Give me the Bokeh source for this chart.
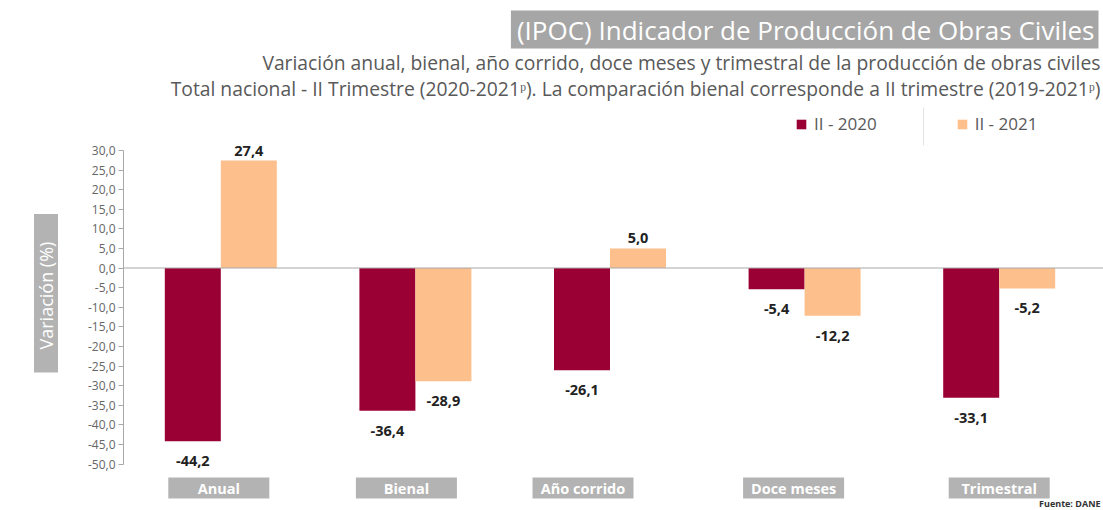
from bokeh.plotting import figure
from bokeh.models import Range1d, FixedTicker, Label, Span, Title
from bokeh.embed import file_html
from bokeh.resources import INLINE
from bokeh.core.properties import value

# ---------------- data ----------------
categories = ["Anual", "Bienal", "Año corrido", "Doce meses", "Trimestral"]
series_names = ["II - 2020", "II - 2021"]
ii_2020 = [-44.2, -36.4, -26.1, -5.4, -33.1]
ii_2021 = [27.4, -28.9, 5.0, -12.2, -5.2]
y_ticks = [30, 25, 20, 15, 10, 5, 0, -5, -10, -15, -20, -25, -30, -35, -40, -45, -50]
y_tick_labels = ["30,0", "25,0", "20,0", "15,0", "10,0", "5,0", "0,0", "-5,0", "-10,0",
                 "-15,0", "-20,0", "-25,0", "-30,0", "-35,0", "-40,0", "-45,0", "-50,0"]

title_text = "(IPOC) Indicador de Producción de Obras Civiles"
subtitle1 = "Variación anual, bienal, año corrido, doce meses y trimestral de la producción de obras civiles"
subtitle2 = "Total nacional - II Trimestre (2020-2021ᵖ). La comparación bienal corresponde a II trimestre (2019-2021ᵖ)"
y_label = "Variación  (%)"
source_note = "Fuente: DANE"

# ---------------- layout / style ----------------
W, H = 1103, 510
LEFT = 123
PX_PER_CAT = 194.6
PX_PER_UNIT = 3.92
ZERO_PX = 267.5
BAR_W_PX = 56
FONT = "Open Sans"
MAROON = "#9b0034"
PEACH = "#fdbf8b"
GREY_BOX = "#b3b3b3"
TEXT_GREY = "#595959"
label_box_shift_px = [-2, -9, -27, -11, 0]

x_end = (W - LEFT) / PX_PER_CAT
y_top = ZERO_PX / PX_PER_UNIT
y_bottom = -(H - ZERO_PX) / PX_PER_UNIT

def px_to_x(px):
    return (px - LEFT) / PX_PER_CAT

def px_to_y(py):
    return (ZERO_PX - py) / PX_PER_UNIT

def fmt(v):
    return f"{v:.1f}".replace(".", ",")

p = figure(width=W, height=H, x_range=Range1d(0, x_end), y_range=Range1d(y_bottom, y_top),
           output_backend="svg", toolbar_location=None, x_axis_location=None,
           min_border_left=LEFT, min_border_right=0, min_border_top=0, min_border_bottom=0)
p.grid.visible = False
p.outline_line_color = None
p.background_fill_color = "white"
p.border_fill_color = "white"

# y axis
ax = p.yaxis[0]
ax.ticker = FixedTicker(ticks=y_ticks)
ax.major_label_overrides = {t: l for t, l in zip(y_ticks, y_tick_labels)}
ax.bounds = (min(y_ticks), max(y_ticks))
ax.axis_line_color = "#a8a8a8"
ax.major_tick_line_color = "#a8a8a8"
ax.major_tick_out = 5
ax.major_tick_in = 0
ax.minor_tick_line_color = None
ax.major_label_text_font = FONT
ax.major_label_text_font_size = "12px"
ax.major_label_text_color = "#666666"
ax.major_label_standoff = 3

# vertical axis title box (left panel)
p.add_layout(Title(text=y_label, align="left", vertical_align="middle", offset=138, standoff=5,
                   text_font=FONT, text_font_size="18px", text_font_style="normal",
                   text_color="white", background_fill_color=GREY_BOX,
                   padding=dict(left=23, right=23, top=0, bottom=0)), "left")

# zero line
p.add_layout(Span(location=0, dimension="width", line_color="#a8a8a8", line_width=1))

# bars
centers = [i + 0.5 for i in range(len(categories))]
off = (BAR_W_PX / 2) / PX_PER_CAT
bw = BAR_W_PX / PX_PER_CAT
x20 = [c - off for c in centers]
x21 = [c + off for c in centers]
p.vbar(x=x20, top=ii_2020, bottom=0, width=bw, fill_color=MAROON, line_color=None,
       legend_label=series_names[0])
p.vbar(x=x21, top=ii_2021, bottom=0, width=bw, fill_color=PEACH, line_color=None,
       legend_label=series_names[1])

# value labels
for xs, vals in ((x20, ii_2020), (x21, ii_2021)):
    p.text(x=xs, y=vals, text=[fmt(v) for v in vals],
           y_offset=[-10 if v > 0 else 20 for v in vals],
           text_align="center", text_baseline="middle",
           text_font=value(FONT), text_font_style="bold", text_font_size="14.5px",
           text_color="#222222")

# category label boxes
box_y = px_to_y(487.5)
box_x = [c + s / PX_PER_CAT for c, s in zip(centers, label_box_shift_px)]
p.rect(x=box_x, y=[box_y] * len(categories), width=101, height=21,
       width_units="screen", height_units="screen", fill_color=GREY_BOX, line_color=None)
p.text(x=box_x, y=[box_y] * len(categories), text=categories,
       text_align="center", text_baseline="middle",
       text_font=value(FONT), text_font_style="bold", text_font_size="14.5px",
       text_color="white")

# legend
lg = p.legend[0]
lg.orientation = "horizontal"
lg.location = (795 - LEFT, H - 135)
lg.padding = 0
lg.margin = 0
lg.spacing = 79
lg.glyph_width = 12
lg.glyph_height = 12
lg.label_standoff = 7
lg.label_text_font = FONT
lg.label_text_font_size = "17px"
lg.label_text_color = TEXT_GREY
lg.border_line_color = None
lg.background_fill_alpha = 0

sep_x = px_to_x(923)
p.segment(x0=[sep_x], y0=[px_to_y(107)], x1=[sep_x], y1=[px_to_y(145)],
          line_color="#e3e3e3", line_width=1)

# texts
p.add_layout(Label(x=W - LEFT - 5, y=H - 29, x_units="screen", y_units="screen",
                   text=title_text, text_align="right", text_baseline="middle",
                   text_font=FONT, text_font_size="26px", text_color="white",
                   background_fill_color="#a6a6a6",
                   padding=dict(left=6, right=4, top=1, bottom=1)))
p.add_layout(Label(x=W - LEFT - 3, y=H - 62, x_units="screen", y_units="screen",
                   text=subtitle1, text_align="right", text_baseline="middle",
                   text_font=FONT, text_font_size="19.3px", text_color=TEXT_GREY))
p.add_layout(Label(x=W - LEFT - 3, y=H - 88, x_units="screen", y_units="screen",
                   text=subtitle2, text_align="right", text_baseline="middle",
                   text_font=FONT, text_font_size="19.3px", text_color=TEXT_GREY))
p.add_layout(Label(x=W - LEFT - 3, y=H - 503, x_units="screen", y_units="screen",
                   text=source_note, text_align="right", text_baseline="middle",
                   text_font=FONT, text_font_size="9px", text_font_style="bold",
                   text_color="#333333"))

open("out.html", "w").write(file_html(p, INLINE))
